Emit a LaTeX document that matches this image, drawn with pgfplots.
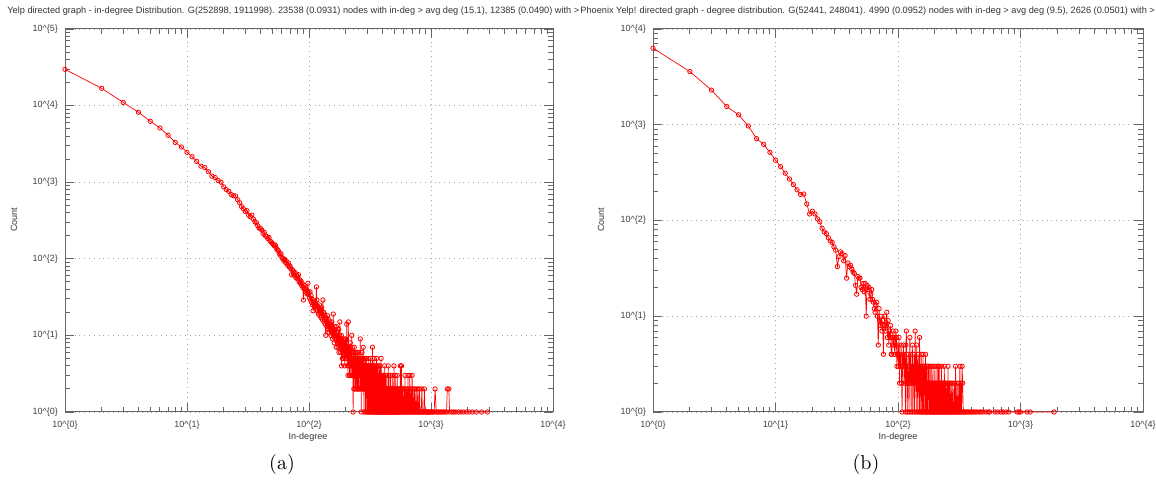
\documentclass[border=0pt]{standalone}
\usepackage{fontspec}
\newfontfamily\gp{Liberation Sans}
\usepackage{pgfplots}
\pgfplotsset{compat=1.18}

\newcommand{\tp}[1]{10\textasciicircum\{#1\}}
\newcommand{\gpf}{\gp\fontsize{4.5}{5}\selectfont}
\newcommand{\gpt}{\gp\fontsize{4.6}{5}\selectfont}

\begin{document}
\begin{tikzpicture}
\path[use as bounding box] (0,0) rectangle (578pt,242.5pt);

% (a) Yelp in-degree
\begin{axis}[at={(32.5pt,36.5pt)}, anchor=south west,
  scale only axis, xmode=log, ymode=log,
  width=244pt, height=191.5pt,
  xmin=1, xmax=10000, ymin=1, ymax=100000,
  axis line style={black!60, line width=0.5pt},
  tick align=inside,
  major tick length=4.5pt, minor tick length=2.5pt,
  tick style={black!60, line width=0.45pt},
  grid=major, major grid style={dotted, black!35, line width=0.4pt},
  xtick={1,10,100,1000,10000},
  xticklabels={\tp{0},\tp{1},\tp{2},\tp{3},\tp{4}},
  ytick={1,10,100,1000,10000,100000},
  yticklabels={\tp{0},\tp{1},\tp{2},\tp{3},\tp{4},\tp{5}},
  ticklabel style={font=\gpf, text=black!75},
  xticklabel style={yshift=-1pt},
  clip=false]
\addplot[red, line width=0.35pt, mark=o, mark size=1.1pt, mark options={red, line width=0.4pt}] coordinates {
(1,29700)(2,16800)(3,11000)(4,8180)(5,6240)(6,5100)(7,4100)(8,3310)(9,2880)(10,2450)
(11,2150)(12,1870)(13,1620)(14,1550)(15,1370)(16,1200)(17,1150)(18,1050)(19,1000)(20,870)
(21,800)(22,760)(23,690)(24,665)(25,660)(26,590)(27,540)(28,480)(29,450)(30,415)
(31,425)(32,370)(33,355)(34,372)(35,330)(36,305)(37,296)(38,270)(39,252)(40,248)
(41,238)(42,214)(43,221)(44,198)(45,196)(46,184)(47,190)(48,170)(49,166)(50,160)
(51,154)(52,148)(53,150)(54,137)(55,131)(56,128)(57,118)(58,112)(59,116)(60,104)
(61,100)(62,96)(63,99)(64,90)(65,94)(66,86)(67,82)(68,88)(69,78)(70,80)
(71,74)(72,62)(73,72)(74,70)(75,66)(76,60)(77,66)(78,57)(79,61)(80,55)
(81,58)(82,62)(83,50)(84,53)(85,48)(86,51)(87,45)(88,48)(89,42)(90,29)
(91,45)(92,40)(93,42)(94,37)(95,40)(96,35)(97,38)(98,48)(99,34)(100,36)
(101,31)(102,37)(103,29)(104,33)(105,27)(106,30)(107,25)(108,21)(109,28)(110,26)
(111,24)(112,27)(113,22)(114,25)(115,43)(116,29)(117,21)(118,24)(119,19)(120,23)
(121,20)(122,25)(123,18)(124,22)(125,21)(126,17)(127,23)(128,19)(129,16)(130,29)
(131,18)(132,20)(133,15)(134,19)(135,17)(136,14)(137,10)(138,16)(139,17)(140,13)
(141,15)(142,18)(143,12)(144,14)(145,16)(146,11)(147,13)(148,15)(149,12)(150,14)
(151,10)(152,13)(153,11)(154,15)(155,12)(156,9)(157,11)(158,19)(159,10)(160,12)
(161,8)(162,11)(163,13)(164,9)(165,10)(166,12)(167,7)(168,13)(169,9)(170,11)
(171,8)(172,10)(173,7)(174,9)(175,12)(176,6)(177,8)(178,10)(179,15)(180,7)
(181,9)(182,6)(183,8)(184,10)(185,4)(186,7)(187,9)(188,5)(189,8)(190,6)
(191,5)(192,9)(193,7)(194,6)(195,8)(196,4)(197,7)(198,5)(199,9)(200,6)
(201,7)(202,5)(203,8)(204,14)(205,6)(206,4)(207,7)(208,5)(209,3)(210,15)
(211,6)(212,4)(213,7)(214,5)(215,3)(216,6)(217,4)(218,8)(219,5)(220,3)
(221,6)(222,4)(223,5)(224,10)(225,3)(226,7)(227,4)(228,3)(229,5)(230,1)
(231,6)(232,4)(233,2)(234,5)(235,7)(236,3)(237,4)(238,2)(239,6)(240,3)
(241,5)(242,4)(243,2)(244,6)(245,3)(246,4)(247,5)(248,2)(249,3)(250,6)
(251,4)(252,2)(253,2)(254,5)(255,3)(256,4)(257,6)(258,2)(259,3)(260,4)
(261,5)(262,3)(263,9)(264,2)(265,4)(266,3)(267,5)(268,1)(269,4)(270,3)
(271,2)(272,6)(273,3)(274,4)(275,2)(276,5)(277,3)(278,7)(279,2)(280,4)
(281,3)(282,1)(283,5)(284,2)(285,3)(286,4)(287,2)(288,3)(289,5)(290,2)
(291,1)(292,4)(293,3)(294,2)(295,5)(296,3)(297,1)(298,4)(299,2)(300,3)
(301,2)(302,4)(303,1)(304,3)(305,2)(306,5)(307,3)(308,1)(309,2)(310,4)
(312,3)(313,2)(314,1)(315,4)(316,2)(317,3)(318,1)(319,5)(320,2)(322,3)
(323,1)(324,4)(325,2)(326,3)(327,1)(328,2)(329,4)(330,3)(331,7)(332,2)
(333,1)(335,3)(336,2)(337,4)(338,1)(339,3)(340,2)(341,5)(343,2)(344,1)
(345,3)(346,2)(347,4)(348,1)(349,2)(350,3)(352,1)(353,2)(354,4)(355,1)
(356,3)(357,2)(358,5)(360,2)(361,1)(362,3)(363,2)(365,1)(366,4)(367,2)
(368,3)(369,1)(370,2)(372,3)(373,1)(374,2)(375,4)(377,1)(378,2)(379,3)
(380,1)(381,2)(383,4)(384,1)(385,2)(386,3)(388,1)(389,2)(390,5)(392,1)
(393,3)(394,2)(396,1)(397,2)(398,3)(399,1)(400,2)
(402,1)(403,3)(405,2)(406,1)(408,2)(409,1)(411,3)(412,1)(414,2)(416,1)
(417,4)(419,1)(420,2)(422,1)(424,3)(425,1)(427,2)(429,1)(431,2)(432,1)
(434,3)(436,1)(438,2)(440,1)(442,2)(444,1)(446,4)(447,1)(449,2)(451,1)
(453,3)(455,1)(457,2)(460,1)(462,2)(464,1)(466,3)(469,1)(471,2)(473,1)
(476,2)(478,1)(481,3)(483,1)(486,2)(489,1)(491,2)(494,1)(497,4)(500,1)
(503,2)(506,1)(509,3)(512,1)(515,2)(518,1)(521,2)(525,1)(528,3)(531,1)
(535,2)(538,1)(542,2)(545,1)(549,1)(553,2)(557,1)(561,4)(565,1)(569,2)
(573,4)(577,1)(581,2)(585,1)(590,2)(594,1)(599,1)(603,2)(608,1)(612,3)
(617,1)(622,2)(627,1)(632,1)(637,2)(642,1)(648,3)(653,1)(659,2)(664,1)
(670,3)(676,1)(682,1)(688,2)(694,1)(700,3)
(706,1)(713,2)(719,1)(726,1)(733,2)(740,1)(748,1)(755,2)(763,1)(771,1)
(779,2)(787,1)(795,1)(804,2)(813,1)(822,1)(831,1)(841,2)(851,1)(861,1)
(872,1)(883,2)(894,1)(906,1)(918,1)(931,1)(944,1)(958,1)(972,1)(987,1)
(1003,1)(1020,1)(1040,1)(1062,1)(1080,2)(1105,1)(1130,1)(1160,1)(1190,1)(1225,1)
(1260,1)(1300,1)(1340,1)(1360,2)(1400,2)(1420,1)(1480,1)(1540,1)(1600,1)(1680,1)
(1760,1)(1850,1)(1950,1)(2050,1)(2180,1)(2350,1)(2600,1)(2900,1)
};
\end{axis}

% (b) Phoenix Yelp degree
\begin{axis}[at={(326.5pt,36.5pt)}, anchor=south west,
  scale only axis, xmode=log, ymode=log,
  width=245pt, height=191.5pt,
  xmin=1, xmax=10000, ymin=1, ymax=10000,
  axis line style={black!60, line width=0.5pt},
  tick align=inside,
  major tick length=4.5pt, minor tick length=2.5pt,
  tick style={black!60, line width=0.45pt},
  grid=major, major grid style={dotted, black!35, line width=0.4pt},
  xtick={1,10,100,1000,10000},
  xticklabels={\tp{0},\tp{1},\tp{2},\tp{3},\tp{4}},
  ytick={1,10,100,1000,10000},
  yticklabels={\tp{0},\tp{1},\tp{2},\tp{3},\tp{4}},
  ticklabel style={font=\gpf, text=black!75},
  xticklabel style={yshift=-1pt},
  clip=false]
\addplot[red, line width=0.35pt, mark=o, mark size=1.1pt, mark options={red, line width=0.4pt}] coordinates {
(1,6300)(2,3590)(3,2300)(4,1550)(5,1270)(6,970)(7,716)(8,624)(9,515)(10,426)
(11,365)(12,312)(13,271)(14,237)(15,209)(16,187)(17,189)(18,149)(19,117)(20,125)
(21,117)(22,104)(23,97)(24,83)(25,76)(26,73)(27,66)(28,61)(29,59)(30,53)
(31,49)(32,33)(33,42)(34,47)(35,45)(36,38)(37,43)(38,25)(39,36)(40,33)
(41,34)(42,31)(43,29)(44,28)(45,21)(46,17)(47,26)(48,25)(49,25)(50,20)
(51,19)(52,22)(53,18)(54,22)(55,10)(56,21)(57,19)(58,20)(59,15)(60,17)
(61,19)(62,15)(63,14)(64,12)(65,11)(66,13)(67,14)(68,10)(69,5)(70,12)
(71,9)(72,8)(73,10)(74,7)(75,9)(76,4)(77,8)(78,10)(79,7)(80,8)
(81,11)(82,6)(83,9)(84,5)(85,7)(86,6)(87,8)(88,4)(89,4)(90,6)
(91,7)(92,5)(93,6)(94,4)(95,5)(96,7)(97,6)(98,3)(99,4)(100,5)
(101,3)(102,6)(103,2)(104,4)(105,3)(106,5)(107,2)(108,1)(109,4)(110,3)
(111,5)(112,2)(113,4)(114,3)(115,1)(116,5)(117,7)(118,2)(119,1)(120,3)
(121,4)(122,2)(123,1)(124,3)(125,6)(126,2)(127,4)(128,1)(129,3)(130,2)
(131,5)(132,1)(133,3)(134,2)(135,4)(136,1)(137,2)(138,7)(139,3)(140,2)
(141,1)(142,5)(143,3)(144,2)(145,1)(146,4)(147,2)(148,3)(149,1)(150,6)
(151,2)(152,1)(153,3)(154,2)(155,4)(156,1)(157,2)(158,3)(159,1)(160,4)
(161,2)(162,1)(163,3)(164,2)(165,3)(166,1)(167,2)(168,4)(169,1)(170,2)
(171,3)(172,1)(173,2)(174,1)(175,3)(176,2)(177,3)(178,1)(179,2)(181,1)
(182,3)(183,2)(184,1)(185,2)(186,1)(187,3)(188,1)(189,2)(191,1)(192,2)
(193,3)(194,1)(195,2)(197,1)(198,2)(199,1)(200,3)(201,1)(203,2)(204,1)
(205,2)(207,1)(208,3)(209,1)(211,2)(212,1)(213,3)(215,1)(216,2)(217,3)
(218,1)(220,2)(221,1)(223,2)(224,1)(226,3)(227,1)(229,2)(230,1)(232,2)
(234,1)(235,2)(237,1)(239,3)(240,1)(242,2)(244,1)(246,2)(248,1)(250,1)
(252,2)(254,1)(256,3)(258,1)(260,2)(262,1)(265,2)(267,1)(270,1)(272,2)
(275,1)(277,1)(280,2)(283,1)(286,1)(289,2)(292,1)(295,3)(298,1)(301,1)
(304,2)(307,1)(310,1)(314,2)(317,1)(320,3)(323,1)(327,2)(330,1)(334,3)
(337,2)(341,1)(345,1)(352,1)(360,1)(368,1)(377,1)(388,1)(400,1)(412,1)
(425,1)(440,1)(458,1)(475,1)(495,1)(520,1)(545,1)(560,1)(620,1)(650,1)
(690,1)(720,1)(760,1)(800,1)(940,1)(970,1)(1000,1)(1130,1)(1200,1)(1880,1)
};
\end{axis}

% gnuplot-style titles
\node[anchor=west, font=\gpt, text=black!80, inner sep=0pt] at (3.5pt,237pt)
  {Yelp directed graph - in-degree Distribution. G(252898, 1911998). 23538 (0.0931) nodes with in-deg > avg deg (15.1), 12385 (0.0490) with >};
\node[anchor=west, font=\gpt, text=black!80, inner sep=0pt] at (290pt,237pt)
  {Phoenix Yelp! directed graph - degree distribution. G(52441, 248041). 4990 (0.0952) nodes with in-deg > avg deg (9.5), 2626 (0.0501) with >};

% axis labels
\node[font=\gpf, text=black!80] at (154pt,24pt) {In-degree};
\node[font=\gpf, text=black!80] at (449pt,24pt) {In-degree};
\node[font=\gpf, text=black!80, rotate=90] at (7pt,132.5pt) {Count};
\node[font=\gpf, text=black!80, rotate=90] at (300.5pt,132.5pt) {Count};

% subfigure captions
\node[font=\fontsize{10}{12}\selectfont] at (141pt,10pt) {(a)};
\node[font=\fontsize{10}{12}\selectfont] at (433pt,10pt) {(b)};
\end{tikzpicture}
\end{document}
